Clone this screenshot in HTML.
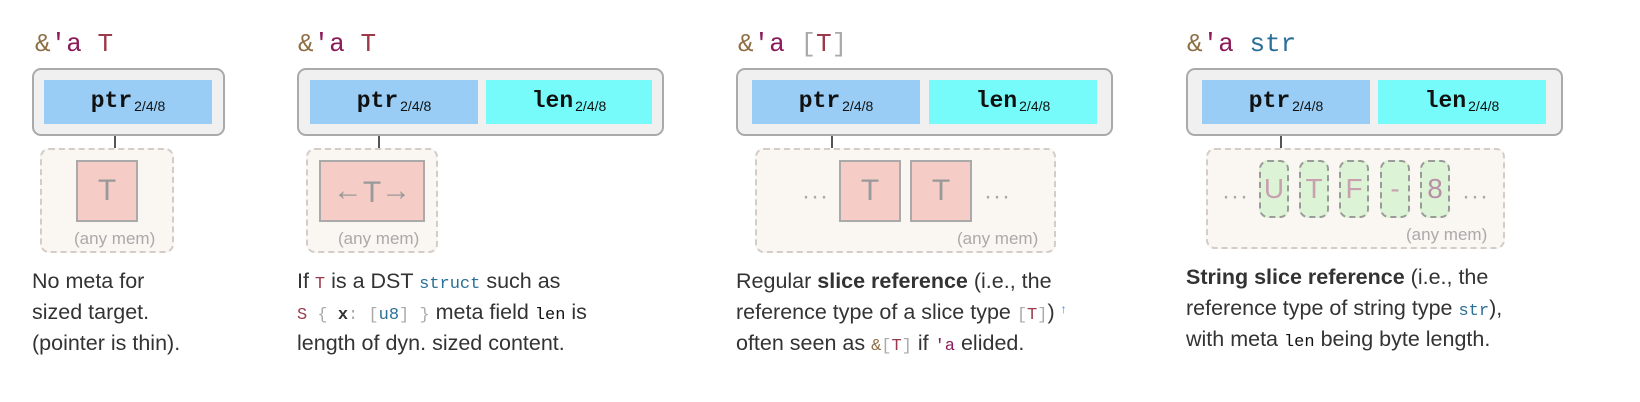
<!DOCTYPE html>
<html><head><meta charset="utf-8"><style>
*{margin:0;padding:0;box-sizing:border-box}
body{width:1640px;height:402px;background:#fff;position:relative;overflow:hidden;font-family:"Liberation Sans",sans-serif;color:#333}
.a{position:absolute}
.mono{font-family:"Liberation Mono",monospace}
.title{font-size:26px;top:30px;line-height:28px}
.amp{color:#8f6e44}.lt{color:#8b1a5a}.ty{color:#9b3a4a}.br{color:#aaa}.sb{color:#2a6f97}
.outer{top:68px;height:68px;background:#f0f0f0;border:2px solid #aaa;border-radius:9px}
.cell{top:80px;height:44px;font-family:"Liberation Mono",monospace;font-weight:bold;font-size:23px;color:#111;text-align:center;line-height:42px}
.cell sub{font-family:"Liberation Sans",sans-serif;font-weight:normal;font-size:14px;vertical-align:-4px;margin-left:2px}
.ptr{background:#99cdf5}.len{background:#77fafa}
.conn{width:2px;background:#555;top:136px;height:12px}
.mem{top:148px;background:#faf6f2;border:2px dashed #d3ccc8;border-radius:9px}
.tb{top:160px;height:62px;background:#f5cdc6;border:2px solid #aaa;color:#999;font-size:30px;text-align:center;line-height:58px}
.any{font-size:17px;color:#aaa}
.dots{font-size:24px;color:#aaa;letter-spacing:1px;top:183px}
.u{top:160px;width:30px;height:58px;background:#ddf3d5;border:2px dashed #9a9a9a;border-radius:9px;color:#c9a0b0;font-size:28px;text-align:center;line-height:54px}
.txt{font-size:21.5px;line-height:31px;top:266px;color:#333;white-space:nowrap}
.txt code{font-family:"Liberation Mono",monospace;font-size:17px;line-height:0}
sup{line-height:0;font-size:12px;vertical-align:6px}
</style></head><body>

<!-- Panel 1 -->
<div class="a mono title" style="left:35px"><span class="amp">&amp;</span><span class="lt">'a</span> <span class="ty">T</span></div>
<div class="a outer" style="left:32px;width:193px"></div>
<div class="a cell ptr" style="left:44px;width:168px">ptr<sub>2/4/8</sub></div>
<div class="a conn" style="left:114px"></div>
<div class="a mem" style="left:40px;width:134px;height:105px"></div>
<div class="a tb" style="left:76px;width:62px">T</div>
<div class="a any" style="left:74px;top:229px">(any mem)</div>
<div class="a txt" style="left:32px">No meta for<br>sized target.<br>(pointer is thin).</div>

<!-- Panel 2 -->
<div class="a mono title" style="left:298px"><span class="amp">&amp;</span><span class="lt">'a</span> <span class="ty">T</span></div>
<div class="a outer" style="left:297px;width:367px"></div>
<div class="a cell ptr" style="left:310px;width:168px">ptr<sub>2/4/8</sub></div>
<div class="a cell len" style="left:486px;width:166px">len<sub>2/4/8</sub></div>
<div class="a conn" style="left:378px"></div>
<div class="a mem" style="left:306px;width:132px;height:105px"></div>
<div class="a tb" style="left:319px;width:106px;font-size:30px"><span style="font-size:30px;vertical-align:2px">&larr;</span>T<span style="font-size:30px;vertical-align:2px">&rarr;</span></div>
<div class="a any" style="left:338px;top:229px">(any mem)</div>
<div class="a txt" style="left:297px">If <code class="ty">T</code> is a DST <code class="sb">struct</code> such as<br><code><span class="ty">S</span> <span class="br">{</span> <b>x</b><span class="br">:</span> <span class="br">[</span><span class="sb">u8</span><span class="br">]</span> <span class="br">}</span></code> meta field <code style="color:#111">len</code> is<br>length of dyn. sized content.</div>

<!-- Panel 3 -->
<div class="a mono title" style="left:738px"><span class="amp">&amp;</span><span class="lt">'a</span> <span class="br">[</span><span class="ty">T</span><span class="br">]</span></div>
<div class="a outer" style="left:736px;width:377px"></div>
<div class="a cell ptr" style="left:752px;width:168px">ptr<sub>2/4/8</sub></div>
<div class="a cell len" style="left:929px;width:168px">len<sub>2/4/8</sub></div>
<div class="a conn" style="left:831px"></div>
<div class="a mem" style="left:755px;width:301px;height:105px"></div>
<div class="a dots" style="left:802px">&middot;&middot;&middot;</div>
<div class="a tb" style="left:839px;width:62px">T</div>
<div class="a tb" style="left:910px;width:62px">T</div>
<div class="a dots" style="left:984px">&middot;&middot;&middot;</div>
<div class="a any" style="left:957px;top:229px">(any mem)</div>
<div class="a txt" style="left:736px">Regular <b>slice reference</b> (i.e., the<br>reference type of a slice type <code><span class="br">[</span><span class="ty">T</span><span class="br">]</span></code>) <sup style="color:#4a8ad0">&uarr;</sup><br>often seen as <code><span class="amp">&amp;</span><span class="br">[</span><span class="ty">T</span><span class="br">]</span></code> if <code class="lt">'a</code> elided.</div>

<!-- Panel 4 -->
<div class="a mono title" style="left:1187px"><span class="amp">&amp;</span><span class="lt">'a</span> <span class="sb">str</span></div>
<div class="a outer" style="left:1186px;width:377px"></div>
<div class="a cell ptr" style="left:1202px;width:168px">ptr<sub>2/4/8</sub></div>
<div class="a cell len" style="left:1378px;width:168px">len<sub>2/4/8</sub></div>
<div class="a conn" style="left:1280px"></div>
<div class="a mem" style="left:1206px;width:299px;height:101px"></div>
<div class="a dots" style="left:1222px">&middot;&middot;&middot;</div>
<div class="a u" style="left:1259px">U</div>
<div class="a u" style="left:1299px">T</div>
<div class="a u" style="left:1339px">F</div>
<div class="a u" style="left:1380px">-</div>
<div class="a u" style="left:1420px;color:#b890a8">8</div>
<div class="a dots" style="left:1462px">&middot;&middot;&middot;</div>
<div class="a any" style="left:1406px;top:225px">(any mem)</div>
<div class="a txt" style="left:1186px;top:262px">
<b>String slice reference</b> (i.e., the<br>reference type of string type <code class="sb">str</code>),<br>with meta <code style="color:#111">len</code> being byte length.</div>

</body></html>
